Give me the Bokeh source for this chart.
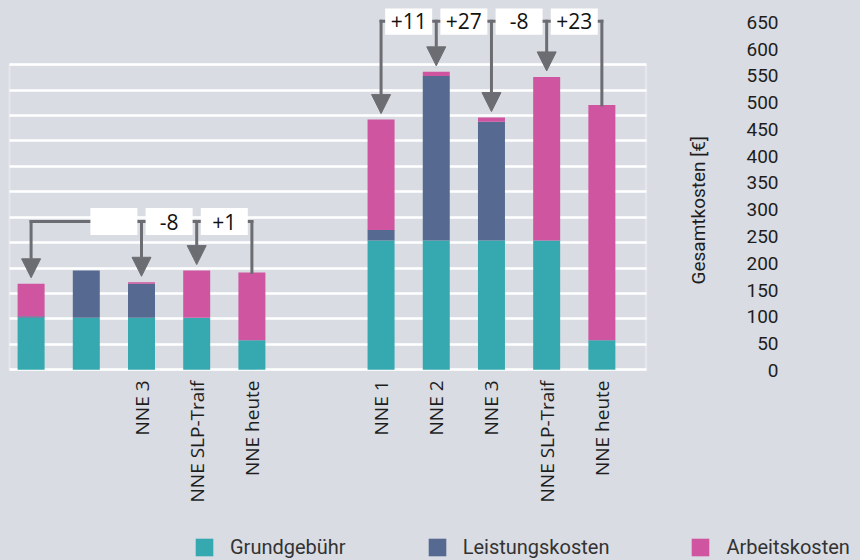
import math
from bokeh.plotting import figure
from bokeh.models import (ColumnDataSource, Range1d, LinearAxis, FixedTicker, Grid,
                          Legend, LegendItem, Arrow, NormalHead, BoxAnnotation,
                          GlobalInlineStyleSheet)
from bokeh.embed import file_html
from bokeh.resources import INLINE
from bokeh.core.properties import value

# ---------------- data ----------------
labels_left = ["", "", "NNE 3", "NNE SLP-Traif", "NNE heute"]
labels_right = ["NNE 1", "NNE 2", "NNE 3", "NNE SLP-Traif", "NNE heute"]
grundgebuehr_left = [102, 102, 102, 102, 58]
leistung_left = [3, 93, 67, 0, 0]
arbeit_left = [64, 0, 3, 93, 133]
grundgebuehr_right = [254, 254, 254, 254, 58]
leistung_right = [21, 324, 234, 0, 0]
arbeit_right = [217, 8, 8, 322, 463]
deltas_left = [None, "", "-8", "+1"]
deltas_right = ["+11", "+27", "-8", "+23"]
connectors_left = ["arrow", None, "arrow", "arrow", "line"]
connectors_right = ["arrow", "arrow", "arrow", "arrow", "line"]
series = ["Grundgebühr", "Leistungskosten", "Arbeitskosten"]
y_tick_values = list(range(0, 651, 50))
grid_values = list(range(0, 601, 50))
axis_title = "Gesamtkosten [€]"

# ---------------- style / layout ----------------
BG = "#d9dce3"
COLORS = ["#35a9af", "#566a91", "#cf55a0"]
GRAY = "#6c6d72"
TEXT = "#1e1e1e"

PX_X0, PX_DX = 30.6, 55.2           # pixel centre of first bar, pixel distance between bars
GROUP_OFFSET = 6.34                 # position of the right group's first bar
Y0_PX, PX_PER_UNIT = 369.2, 0.5083  # bar scale
L0_PX, LPX_PER_UNIT = 370.0, 0.5358 # label-axis scale
FR_L, FR_R, FR_T, FR_B = 8, 860, 8, 560
BOX_L, BOX_R = 8.8, 645.5           # white plot box
AXIS_X = 646                        # where the right-hand axes start


def xd(px):
    return (px - PX_X0) / PX_DX


def yd(py):
    return (Y0_PX - py) / PX_PER_UNIT


def yl(py):
    return (L0_PX - py) / LPX_PER_UNIT


BAR_W = 27 / PX_DX
BOX_W = 47 / PX_DX
ARROW_GAP = 6 / PX_PER_UNIT
BRACKET_LEFT = yd(221)
BRACKET_RIGHT = yd(20.7)
CAT_LABEL_TOP = yd(380)
FIG_SPACE = "\u2007"

pos_left = [float(i) for i in range(len(labels_left))]
pos_right = [GROUP_OFFSET + i for i in range(len(labels_right))]

src = ColumnDataSource(dict(
    x=pos_left + pos_right,
    g=grundgebuehr_left + grundgebuehr_right,
    l=leistung_left + leistung_right,
    a=arbeit_left + arbeit_right,
))

p = figure(frame_width=FR_R - FR_L, frame_height=FR_B - FR_T,
           x_range=Range1d(xd(FR_L), xd(FR_R)),
           y_range=Range1d(yd(FR_B), yd(FR_T)),
           output_backend="svg", toolbar_location=None,
           x_axis_location=None, y_axis_location=None,
           min_border_left=FR_L, min_border_top=FR_T,
           min_border_right=0, min_border_bottom=0,
           background_fill_color=BG, border_fill_color=BG, outline_line_color=None)
p.stylesheets = [GlobalInlineStyleSheet(css="html, body { background: %s; overflow: hidden; }" % BG)]

# drop default grids, add own grid + white frame
p.center = [c for c in p.center if not isinstance(c, Grid)]
if "cross_bounds" in Grid.properties():
    p.add_layout(Grid(dimension=1, ticker=FixedTicker(ticks=grid_values),
                      cross_bounds=(xd(BOX_L), xd(BOX_R)),
                      grid_line_color="white", grid_line_width=2.5))
else:
    p.segment(x0=[xd(BOX_L)] * len(grid_values), x1=[xd(BOX_R)] * len(grid_values),
              y0=grid_values, y1=grid_values, line_color="white", line_width=2.5, level="underlay")
p.add_layout(BoxAnnotation(left=xd(BOX_L), right=xd(BOX_R), bottom=grid_values[0], top=grid_values[-1],
                           fill_alpha=0, line_color="white", line_width=2.5, level="underlay"))

# right side: axis title, then tick labels (both pinned next to the white box)
title_axis = LinearAxis(ticker=FixedTicker(ticks=[]), axis_label=axis_title,
                        fixed_location=xd(AXIS_X),
                        axis_label_orientation=math.pi / 2,
                        axis_line_color=None, major_tick_line_color=None, minor_tick_line_color=None,
                        axis_label_standoff=52, axis_label_text_font="Roboto",
                        axis_label_text_font_size="19px", axis_label_text_font_style="normal",
                        axis_label_text_color=TEXT)
p.add_layout(title_axis, "right")

p.extra_y_ranges = {"labels": Range1d(yl(FR_B), yl(FR_T))}
pad = max(len(str(v)) for v in y_tick_values)
yaxis = LinearAxis(y_range_name="labels", ticker=FixedTicker(ticks=y_tick_values),
                   fixed_location=xd(AXIS_X),
                   major_label_overrides={v: FIG_SPACE * (pad - len(str(v))) + str(v) for v in y_tick_values},
                   axis_line_color=None, major_tick_line_color=None, minor_tick_line_color=None,
                   major_label_standoff=94,
                   major_label_text_font="Roboto", major_label_text_font_size="19px",
                   major_label_text_color=TEXT)
p.add_layout(yaxis, "right")

# stacked bars
bars = p.vbar_stack(["g", "l", "a"], x="x", width=BAR_W, fill_color=COLORS,
                    line_color=None, source=src)

# category labels under the bars (rotated)
cat_x, cat_t = [], []
for x, lab in zip(pos_left + pos_right, labels_left + labels_right):
    if lab:
        cat_x.append(x)
        cat_t.append(lab)
p.text(x=cat_x, y=[CAT_LABEL_TOP] * len(cat_x), text=cat_t, angle=math.pi / 2,
       text_align="right", text_baseline="middle",
       text_font=value("Open Sans"), text_font_size="19px", text_color=TEXT)


# brackets, arrows, delta boxes
def draw_bracket(pos, g, l, a, connectors, deltas, y_br):
    totals = [gi + li + ai for gi, li, ai in zip(g, l, a)]
    cx = [x for x, c in zip(pos, connectors) if c]
    p.segment(x0=[min(cx)], x1=[max(cx)], y0=[y_br], y1=[y_br],
              line_color=GRAY, line_width=3, line_cap="square")
    ax, ay = [], []
    lx, ly = [], []
    for x, c, t in zip(pos, connectors, totals):
        if c == "arrow":
            ax.append(x)
            ay.append(t + ARROW_GAP)
        elif c == "line":
            lx.append(x)
            ly.append(t)
    if lx:
        p.segment(x0=lx, x1=lx, y0=[y_br] * len(lx), y1=ly,
                  line_color=GRAY, line_width=3, line_cap="square")
    asrc = ColumnDataSource(dict(x0=ax, y0=[y_br] * len(ax), x1=ax, y1=ay))
    p.add_layout(Arrow(x_start="x0", y_start="y0", x_end="x1", y_end="y1", source=asrc,
                       line_color=GRAY, line_width=3, line_cap="square",
                       end=NormalHead(size=19, fill_color=GRAY, line_color=GRAY, line_width=1)))
    bx, bt = [], []
    for i, d in enumerate(deltas):
        if d is not None:
            bx.append((pos[i] + pos[i + 1]) / 2)
            bt.append(d)
    p.rect(x=bx, y=[y_br] * len(bx), width=BOX_W, height=27, height_units="screen",
           fill_color="white", line_color=None)
    p.text(x=bx, y=[y_br] * len(bx), text=bt, text_align="center", text_baseline="middle",
           text_font=value("Open Sans"), text_font_size="21px", text_color="#111111")


draw_bracket(pos_left, grundgebuehr_left, leistung_left, arbeit_left,
             connectors_left, deltas_left, BRACKET_LEFT)
draw_bracket(pos_right, grundgebuehr_right, leistung_right, arbeit_right,
             connectors_right, deltas_right, BRACKET_RIGHT)

# legend at the bottom of the frame
legend = Legend(items=[LegendItem(label=s, renderers=[r]) for s, r in zip(series, bars)],
                orientation="horizontal", location=(193 - FR_L, FR_B - 559),
                glyph_width=22, glyph_height=22, label_standoff=15, spacing=80,
                padding=0, margin=0, border_line_color=None, background_fill_alpha=0,
                label_text_font="Roboto", label_text_font_size="20px",
                label_text_color="#333333", label_height=22)
p.add_layout(legend)

open("out.html", "w").write(file_html(p, INLINE))
